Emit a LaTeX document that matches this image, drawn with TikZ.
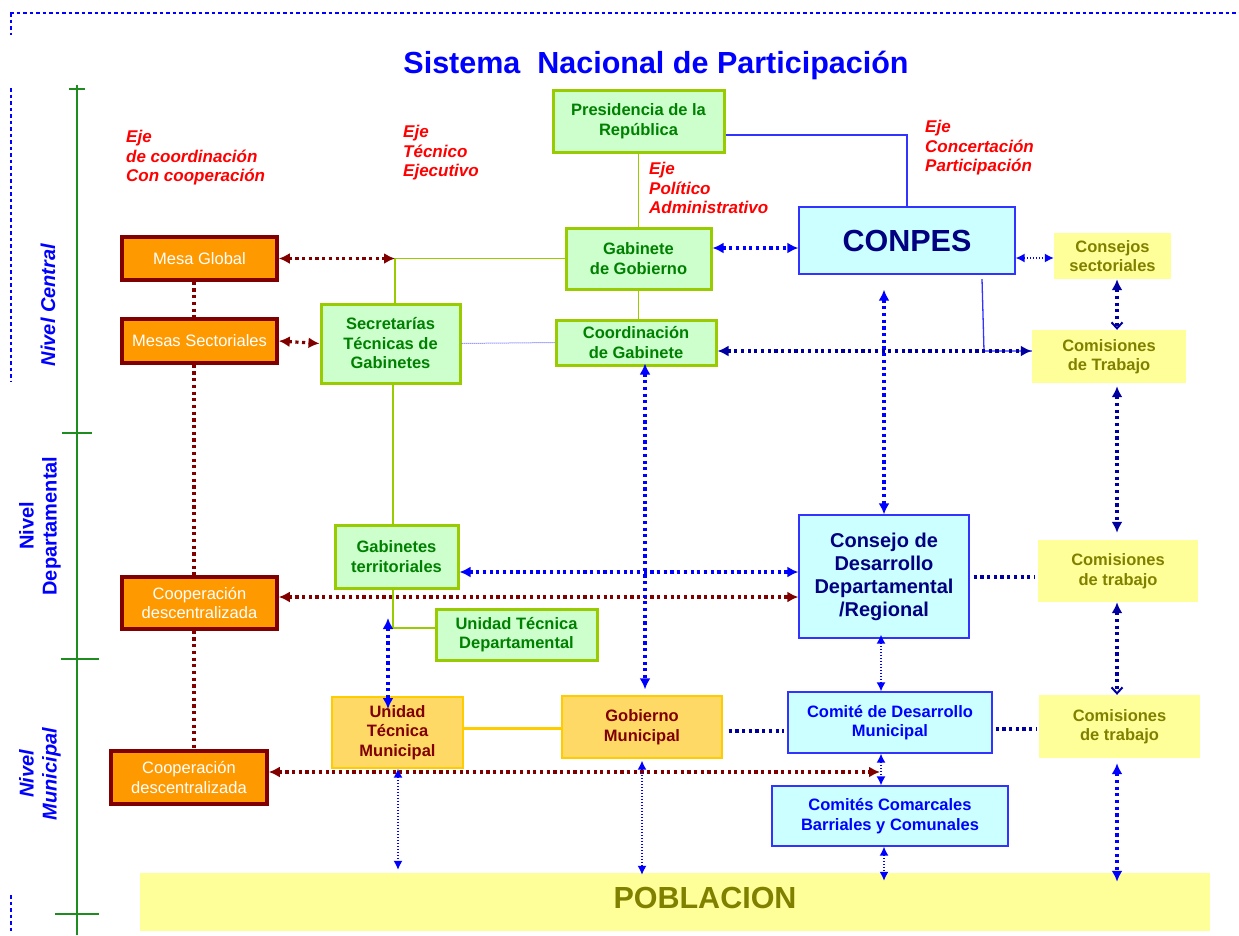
\documentclass[tikz,border=0pt]{standalone}
\usepackage{fontspec}
\setmainfont{Liberation Sans}
\usetikzlibrary{arrows.meta}
\definecolor{gfill}{RGB}{204,255,204}
\definecolor{gborder}{RGB}{153,204,0}
\definecolor{gtext}{RGB}{0,128,0}
\definecolor{orangeA}{RGB}{255,153,0}
\definecolor{dred}{RGB}{128,0,0}
\definecolor{cfill}{RGB}{204,255,255}
\definecolor{cborder}{RGB}{51,51,255}
\definecolor{yfill}{RGB}{255,255,153}
\definecolor{oliveA}{RGB}{128,128,0}
\definecolor{mfill}{RGB}{255,217,102}
\definecolor{mborder}{RGB}{255,204,0}
\definecolor{navyA}{RGB}{0,0,128}
\definecolor{navyB}{RGB}{0,0,160}
\definecolor{blueA}{RGB}{0,0,255}
\definecolor{lblue}{RGB}{102,102,255}
\definecolor{redA}{RGB}{255,0,0}
\definecolor{axisg}{RGB}{30,140,30}
\begin{document}
\begin{tikzpicture}[x=1pt,y=-1pt,
  box/.style={rectangle, inner sep=0pt, align=center, font=\bfseries\fontsize{16.5}{19.5}\selectfont},
  gbox/.style={box, fill=gfill, draw=gborder, line width=3pt, text=gtext},
  obox/.style={box, fill=orangeA, draw=dred, line width=3.5pt, text=white, font=\fontsize{16.5}{19.5}\selectfont},
  cbox/.style={box, fill=cfill, draw=cborder, line width=1.3pt},
  ybox/.style={box, fill=yfill, text=oliveA},
  mbox/.style={box, fill=mfill, draw=mborder, line width=1.3pt, text=dred},
  redlab/.style={anchor=north west, inner sep=0pt, align=left, text=redA, font=\bfseries\itshape\fontsize{17}{19.5}\selectfont},
  lvl/.style={rotate=90, align=center, inner sep=0pt, text=blueA},
  gline/.style={draw=gborder, line width=1.5pt},
  bline/.style={draw=cborder, line width=1.3pt},
  thick dotted line/.style={line width=3.2pt, dash pattern=on 3.2pt off 3.5pt},
  rdot/.style={thick dotted line, draw=dred},
  bdot/.style={thick dotted line, draw=blueA},
  ndot/.style={thick dotted line, draw=navyB},
  sdot/.style={line width=1.4pt, dash pattern=on 1.4pt off 1.6pt, draw=blueA},
  bothT/.style={arrows={Latex[length=11pt,width=11pt]-Latex[length=11pt,width=11pt]}},
  bothS/.style={arrows={Latex[length=9pt,width=9pt]-Latex[length=9pt,width=9pt]}},
  bdash/.style={draw=blueA, line width=1.5pt, dash pattern=on 3.5pt off 3pt},
  axis/.style={draw=axisg, line width=1.5pt}
]
\useasboundingbox (0,0) rectangle (1239,935);

% frame and axis
\draw[bdash] (10,13) -- (1239,13);
\draw[bdash] (11,13) -- (11,35);
\draw[bdash] (11,88) -- (11,382);
\draw[bdash] (11,895) -- (11,932);
\draw[axis] (77,85) -- (77,935);
\draw[axis] (69,89) -- (85,89);
\draw[axis] (62,433) -- (92,433);
\draw[axis] (61,659) -- (99,659);
\draw[axis] (55,914) -- (99,914);

% title and labels
\node[anchor=base, text=blueA, font=\bfseries\fontsize{30.5}{34}\selectfont, inner sep=0pt] (title) at (656,73) {Sistema\ \ Nacional de Participación};
\node[lvl, font=\bfseries\itshape\fontsize{20}{23}\selectfont] (nc) at (48,305) {Nivel Central};
\node[lvl, font=\bfseries\fontsize{20}{23}\selectfont] (nd) at (40,526) {Nivel\\Departamental};
\node[lvl, font=\bfseries\itshape\fontsize{20}{23}\selectfont] (nm) at (40,774) {Nivel\\Municipal};
\node[redlab] (l1) at (126,130) {Eje\\de coordinación\\Con cooperación};
\node[redlab] (l2) at (403,125) {Eje\\Técnico\\Ejecutivo};
\node[redlab] (l3) at (649,162) {Eje\\Político\\Administrativo};
\node[redlab] (l4) at (925,120) {Eje\\Concertación\\Participación};

% boxes
\node[gbox, minimum width=171pt, minimum height=62pt] (pres) at (638.5,121) {Presidencia de la\\República};
\node[gbox, minimum width=145pt, minimum height=61pt] (gob) at (638.5,258.5) {Gabinete\\de Gobierno};
\node[gbox, minimum width=160pt, minimum height=45pt] (coord) at (636,342.5) {Coordinación\\de Gabinete};
\node[gbox, minimum width=139pt, minimum height=79pt] (secr) at (390.5,343.5) {Secretarías\\Técnicas de\\Gabinetes};
\node[gbox, minimum width=123pt, minimum height=63pt] (gterr) at (396.5,556.5) {Gabinetes\\territoriales};
\node[gbox, minimum width=161pt, minimum height=51pt] (utd) at (516.5,634.5) {Unidad Técnica\\Departamental};
\node[obox, minimum width=155pt, minimum height=43pt] (mglobal) at (199.5,258.5) {Mesa Global};
\node[obox, minimum width=155pt, minimum height=44pt] (msect) at (199.5,341) {Mesas Sectoriales};
\node[obox, minimum width=155pt, minimum height=52pt] (coopd) at (199.5,603) {Cooperación\\descentralizada};
\node[obox, minimum width=156pt, minimum height=53pt] (coopm) at (189,777.5) {Cooperación\\descentralizada};
\node[cbox, minimum width=216pt, minimum height=67pt, text=navyA, font=\bfseries\fontsize{30.5}{34}\selectfont] (conpes) at (907,240.5) {CONPES};
\node[ybox, minimum width=117pt, minimum height=46pt] (consec) at (1112.5,256) {Consejos\\sectoriales};
\node[ybox, minimum width=154pt, minimum height=53pt] (comtrab) at (1109,356.5) {Comisiones\\de Trabajo};
\node[cbox, text=navyA, font=\bfseries\fontsize{20}{23}\selectfont, minimum width=170pt, minimum height=123pt] (cdd) at (884,576.5) {Consejo de\\Desarrollo\\Departamental\\/Regional};
\node[ybox, minimum width=160pt, minimum height=62pt] (comd) at (1118,571) {Comisiones\\de trabajo};
\node[cbox, text=blueA, minimum width=204pt, minimum height=61pt] (cdm) at (890,722.5) {Comité de Desarrollo\\Municipal};
\node[ybox, minimum width=161pt, minimum height=63pt] (comm) at (1119.5,726.5) {Comisiones\\de trabajo};
\node[cbox, text=blueA, minimum width=236pt, minimum height=60pt] (ccb) at (890,816) {Comités Comarcales\\Barriales y Comunales};
\node[mbox, minimum width=131pt, minimum height=71pt] (utm) at (397.5,732.5) {Unidad\\Técnica\\Municipal};
\node[mbox, minimum width=160pt, minimum height=62pt] (gmun) at (642,727) {Gobierno\\Municipal};
\node[ybox, minimum width=1070pt, minimum height=58pt] (pob) at (675,902) {};
\node[font=\bfseries\fontsize{30.5}{34}\selectfont, text=oliveA, inner sep=0pt] (pobt) at (705,898) {POBLACION};

% junction coordinates
\coordinate (jA) at (395,258.5);
\coordinate (jB) at (393,628);
\coordinate (rm) at (880,772);
\coordinate (cb1) at (982,279);
\coordinate (cb2) at (984,351);
\coordinate (u1) at (388,618);
\coordinate (u2) at (388,709);

% green lines
\draw[gline] (gob.west) -- (jA) -- (jA |- secr.north);
\draw[gline] (pres.south) -- (pres.south |- gob.north);
\draw[gline] (gob.south) -- (gob.south |- coord.north);
\draw[gline] (393,0 |- secr.south) -- (393,0 |- gterr.north);
\draw[gline] (393,0 |- gterr.south) -- (jB) -- (utd.west |- jB);
% gold line
\draw[draw=mborder, line width=3pt] (utm.east |- 0,728) -- (gmun.west |- 0,728);
% blue solid lines
\draw[bline] ([yshift=-14pt]pres.east) -| (conpes.north);
\draw[bline] (cb1) -- (cb2) -- (cb2 -| comtrab.west);
% light dotted
\draw[draw=lblue, line width=1pt, dash pattern=on 1pt off 1pt] (secr.east) -- (coord.west);

% red dotted
\draw[rdot, bothT] (mglobal.east) -- (jA);
\draw[rdot, bothT] (msect.east) -- (secr.west);
\draw[rdot, bothT] (coopd.east |- 0,597) -- (cdd.west |- 0,597);
\draw[rdot, bothT] (coopm.east |- 0,772) -- (rm);
\draw[rdot] (194,0 |- mglobal.south) -- (194,0 |- msect.north);
\draw[rdot] (194,0 |- msect.south) -- (194,0 |- coopd.north);
\draw[rdot] (194,0 |- coopd.south) -- (194,0 |- coopm.north);

% blue thick dotted
\draw[bdot, bothT] (gob.east |- 0,248) -- (conpes.west |- 0,248);
\draw[bdot, bothT, shorten <=15pt] (884,0 |- conpes.south) -- (cdd.north);
\draw[bdot, bothT, shorten <=-3pt, shorten >=6pt] (645,0 |- coord.south) -- (645,0 |- gmun.north);
\draw[bdot, bothT] (gterr.east |- 0,572) -- (cdd.west |- 0,572);
\draw[bdot, bothT] (u1) -- (u2);
\draw[bdot, bothT, shorten <=5pt, shorten >=-9pt] (1117,0 |- comm.south) -- (1117,0 |- pob.north);

% navy thick dotted
\draw[ndot, bothT] (coord.east |- 0,351) -- (comtrab.west |- 0,351);
\draw[ndot, arrows={Latex[length=11pt,width=11pt]-Straight Barb[length=6pt,width=11pt,line width=2pt]}] (1117,0 |- consec.south) -- (1117,0 |- comtrab.north);
\draw[ndot, bothT, shorten <=3pt, shorten >=7pt] (1117,0 |- comtrab.south) -- (1117,0 |- comd.north);
\draw[ndot, arrows={Latex[length=11pt,width=11pt]-Straight Barb[length=6pt,width=11pt,line width=2pt]}] (1117,0 |- comd.south) -- (1117,0 |- comm.north);
\draw[ndot, shorten <=4pt, shorten >=3pt] (cdd.east |- 0,577) -- (comd.west |- 0,577);
\draw[ndot, shorten <=3pt, shorten >=2pt] (cdm.east |- 0,729) -- (comm.west |- 0,729);
\draw[ndot, shorten <=6pt, shorten >=3pt] (gmun.east |- 0,731) -- (cdm.west |- 0,731);

% thin dotted arrows
\draw[sdot, bothS] (conpes.east |- 0,258) -- (consec.west |- 0,258);
\draw[sdot, bothS, shorten <=-4pt] (881,0 |- cdd.south) -- (881,0 |- cdm.north);
\draw[sdot, bothS] (881,0 |- cdm.south) -- (881,0 |- ccb.north);
\draw[sdot, bothS, shorten >=-8pt] (884,0 |- ccb.south) -- (884,0 |- pob.north);
\draw[sdot, bothS, shorten >=3pt] (398,0 |- utm.south) -- (398,0 |- pob.north);
\draw[sdot, bothS, shorten <=2pt, shorten >=-2pt] (642,0 |- gmun.south) -- (642,0 |- pob.north);
\end{tikzpicture}
\end{document}
